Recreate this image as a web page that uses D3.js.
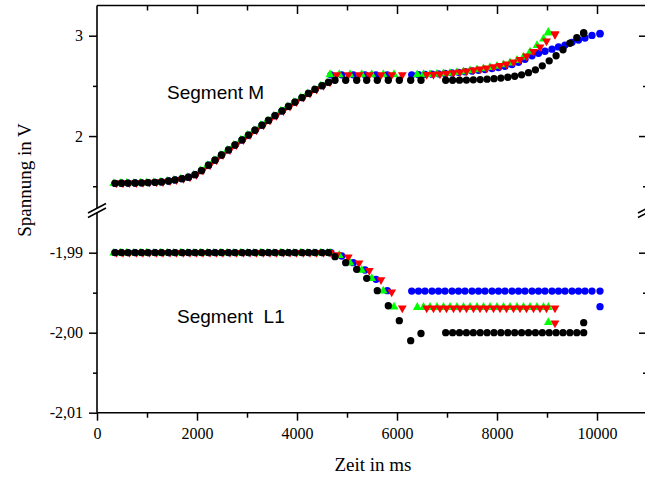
<!DOCTYPE html>
<html>
<head>
<meta charset="utf-8">
<script src="https://cdn.jsdelivr.net/npm/d3@7"></script>
<style>
  body { margin: 0; background: #fff; }
  svg { display: block; }
</style>
</head>
<body>
<div id="chart"></div>
<script>
// ------ Data ------ //

// start of every run: the four curves lie almost on top of each other here
const rampTime = [360, 490, 620, 760, 890, 1020, 1160, 1290, 1430, 1560, 1700, 1830, 1960,
  2090, 2230, 2360, 2490, 2630, 2760, 2900, 3030, 3160, 3300, 3430, 3560, 3700, 3830, 3960,
  4100, 4230, 4360, 4500, 4630];
// the triangle runs were sampled a little earlier (green) and later (red)
const greenRampTime = [335, 465, 595, 735, 865, 995, 1135, 1265, 1405, 1535, 1675, 1805, 1935,
  2065, 2205, 2335, 2465, 2605, 2735, 2875, 3005, 3135, 3275, 3405, 3535, 3675, 3805, 3935,
  4075, 4205, 4335, 4475, 4605];
const redRampTime = [390, 520, 650, 790, 920, 1050, 1190, 1320, 1460, 1590, 1730, 1860, 1990,
  2120, 2260, 2390, 2520, 2660, 2790, 2930, 3060, 3190, 3330, 3460, 3590, 3730, 3860, 3990,
  4130, 4260, 4390, 4530, 4660];
const rampM = [1.529, 1.530, 1.531, 1.532, 1.534, 1.536, 1.539, 1.543, 1.552, 1.563, 1.575, 1.590, 1.615,
  1.656, 1.710, 1.760, 1.811, 1.862, 1.911, 1.961, 2.010, 2.058, 2.108, 2.156, 2.203, 2.250, 2.295, 2.339,
  2.383, 2.425, 2.465, 2.502, 2.535];
const rampL1 = [-1.99, -1.99, -1.99, -1.99, -1.99, -1.99, -1.99, -1.99, -1.99, -1.99, -1.99, -1.99, -1.99,
  -1.99, -1.99, -1.99, -1.99, -1.99, -1.99, -1.99, -1.99, -1.99, -1.99, -1.99, -1.99, -1.99, -1.99, -1.99,
  -1.99, -1.99, -1.99, -1.99, -1.99];

// black circles
const blackTime = [4760, 4974, 5194, 5394, 5606, 5826, 6046, 6274, 6480, 6974, 7112, 7250, 7388, 7526,
  7664, 7802, 7940, 8078, 8216, 8354, 8492, 8630, 8768, 8906, 9044, 9182, 9320, 9458, 9596, 9734, 9734];
const blackM = [2.556, 2.556, 2.556, 2.556, 2.556, 2.556, 2.556, 2.556, 2.556, 2.556, 2.556, 2.557, 2.558, 2.560,
  2.563, 2.567, 2.572, 2.578, 2.586, 2.596, 2.610, 2.632, 2.660, 2.700, 2.750, 2.800, 2.860, 2.925, 2.980, 3.030, 3.022];
const blackL1 = [-1.9905, -1.99125, -1.99208, -1.9932, -1.99475, -1.99663, -1.9985, -2.0010, -2.0001, -2.00, -2.00, -2.00, -2.00, -2.00,
  -2.00, -2.00, -2.00, -2.00, -2.00, -2.00, -2.00, -2.00, -2.00, -2.00, -2.00, -2.00, -2.00, -2.00, -2.00, -2.00, -1.99875];

// blue circles
const blueTime = [4680, 4894, 5126, 5360, 5580, 5806, 6294, 6430, 6560, 6700, 6830, 6960, 7100, 7230,
  7360, 7500, 7630, 7760, 7900, 8030, 8160, 8300, 8430, 8560, 8700, 8830, 8960, 9100, 9230, 9360,
  9500, 9630, 9760, 9900, 10060, 10060];
const blueM = [2.61, 2.61, 2.61, 2.61, 2.61, 2.61, 2.61, 2.612, 2.614, 2.617, 2.620, 2.624, 2.629, 2.635,
  2.641, 2.648, 2.655, 2.663, 2.672, 2.683, 2.695, 2.712, 2.735, 2.765, 2.800, 2.825, 2.845, 2.866, 2.888, 2.907,
  2.934, 2.957, 2.977, 3.003, 3.024, 3.018];
const blueL1 = [-1.99, -1.99041, -1.99125, -1.99216, -1.99333, -1.99475, -1.9948, -1.9948, -1.9948, -1.9948, -1.9948, -1.9948, -1.9948, -1.9948,
  -1.9948, -1.9948, -1.9948, -1.9948, -1.9948, -1.9948, -1.9948, -1.9948, -1.9948, -1.9948, -1.9948, -1.9948, -1.9948, -1.9948, -1.9948, -1.9948,
  -1.9948, -1.9948, -1.9948, -1.9948, -1.9948, -1.99675];

// green up-triangles
const greenTime = [4660, 4846, 5060, 5294, 5494, 5726, 5940, 6406, 6530, 6660, 6800, 6930, 7060, 7200,
  7330, 7460, 7600, 7730, 7860, 8000, 8130, 8260, 8400, 8530, 8660, 8800, 8930, 9027, 9027];
const greenM = [2.615, 2.615, 2.615, 2.615, 2.615, 2.615, 2.615, 2.614, 2.615, 2.617, 2.620, 2.624, 2.629, 2.636,
  2.644, 2.653, 2.663, 2.674, 2.686, 2.699, 2.714, 2.732, 2.757, 2.790, 2.840, 2.905, 2.970, 3.037, 3.030];
const greenL1 = [-1.99, -1.9903, -1.99125, -1.99216, -1.9932, -1.99475, -1.99675, -1.9968, -1.9968, -1.9968, -1.9968, -1.9968, -1.9968, -1.9968,
  -1.9968, -1.9968, -1.9968, -1.9968, -1.9968, -1.9968, -1.9968, -1.9968, -1.9968, -1.9968, -1.9968, -1.9968, -1.9968, -1.9968, -1.9987];

// red down-triangles
const redTime = [4794, 5026, 5240, 5446, 5680, 5894, 6106, 6594, 6730, 6860, 6990, 7130, 7260, 7390,
  7530, 7660, 7790, 7930, 8060, 8190, 8330, 8460, 8590, 8730, 8860, 8990, 9160, 9160];
const redM = [2.608, 2.608, 2.608, 2.608, 2.608, 2.608, 2.608, 2.610, 2.612, 2.616, 2.622, 2.628, 2.636, 2.645,
  2.655, 2.665, 2.675, 2.688, 2.700, 2.715, 2.735, 2.760, 2.795, 2.840, 2.885, 2.945, 3.017, 3.010];
const redL1 = [-1.9903, -1.99058, -1.99133, -1.99225, -1.99341, -1.99495, -1.99695, -1.99695, -1.99695, -1.99695, -1.99695, -1.99695, -1.99695, -1.99695,
  -1.99695, -1.99695, -1.99695, -1.99695, -1.99695, -1.99695, -1.99695, -1.99695, -1.99695, -1.99695, -1.99695, -1.99695, -1.99695, -1.99883];

// axis ticks
const xMajorTicks = [0, 2000, 4000, 6000, 8000, 10000];
const xMinorTicks = [1000, 3000, 5000, 7000, 9000, 11000];
const mMajorTicks = [2, 3];
const mMinorTicks = [1.5, 2.5];
const l1MajorTicks = [-1.99, -2.00, -2.01];
const l1MinorTicks = [-1.995, -2.005];


// ------ Create the drawing area ------- //

const width = 645;
const height = 477;
const svg = d3.select("#chart")
  .append("svg")
    .attr("width", width)
    .attr("height", height);

const plotLeft = 97, plotRight = 647, plotTop = 5.5, plotBottom = 412.7;

const x = d3.scaleLinear().domain([0, 11000]).range([plotLeft, plotRight]);
// broken y axis: upper part for segment M, lower part for segment L1
const yM = d3.scaleLinear().domain([1.3, 3.3]).range([206.3, 5.6]);
const yL1 = d3.scaleLinear().domain([-2.01, -1.985]).range([plotBottom, 212.7]);

const de = d3.formatLocale({decimal: ",", thousands: ".", grouping: [3], currency: ["", "€"], minus: "-"});
const fmtL1 = de.format(".2f");

const serif = "'Liberation Serif', 'Times New Roman', serif";

// ------ Axes ------- //

const styleAxis = g => {
  g.select(".domain").remove();
  g.selectAll(".tick line").attr("stroke", "#000").attr("stroke-width", 1.5);
  g.selectAll(".tick text")
    .attr("fill", "#000")
    .attr("font-family", serif)
    .attr("font-size", 16);
};

// bottom
svg.append("g")
  .attr("transform", `translate(0, ${plotBottom})`)
  .call(d3.axisBottom(x).tickValues(xMajorTicks).tickSize(8).tickPadding(7).tickFormat(d3.format("d")))
  .call(styleAxis);
svg.append("g")
  .attr("transform", `translate(0, ${plotBottom})`)
  .call(d3.axisBottom(x).tickValues(xMinorTicks).tickSize(5).tickFormat(""))
  .call(styleAxis);

// top (ticks inside)
svg.append("g")
  .attr("transform", `translate(0, ${plotTop})`)
  .call(d3.axisTop(x).tickValues(xMajorTicks.slice(1)).tickSize(-8.5).tickFormat(""))
  .call(styleAxis);
svg.append("g")
  .attr("transform", `translate(0, ${plotTop})`)
  .call(d3.axisTop(x).tickValues(xMinorTicks).tickSize(-5).tickFormat(""))
  .call(styleAxis);

// left, segment M
svg.append("g")
  .attr("transform", `translate(${plotLeft}, 0)`)
  .call(d3.axisLeft(yM).tickValues(mMajorTicks).tickSize(8).tickPadding(6).tickFormat(d3.format("d")))
  .call(styleAxis);
svg.append("g")
  .attr("transform", `translate(${plotLeft}, 0)`)
  .call(d3.axisLeft(yM).tickValues(mMinorTicks).tickSize(4).tickFormat(""))
  .call(styleAxis);

// left, segment L1
svg.append("g")
  .attr("transform", `translate(${plotLeft}, 0)`)
  .call(d3.axisLeft(yL1).tickValues(l1MajorTicks).tickSize(8).tickPadding(6).tickFormat(fmtL1))
  .call(styleAxis);
svg.append("g")
  .attr("transform", `translate(${plotLeft}, 0)`)
  .call(d3.axisLeft(yL1).tickValues(l1MinorTicks).tickSize(4).tickFormat(""))
  .call(styleAxis);

// right (ticks inside, no labels)
[[yM, mMajorTicks, 8], [yM, mMinorTicks, 4], [yL1, l1MajorTicks.slice(0, 2), 8], [yL1, l1MinorTicks, 4]]
  .forEach(([scale, ticks, size]) => {
    svg.append("g")
      .attr("transform", `translate(${plotRight}, 0)`)
      .call(d3.axisRight(scale).tickValues(ticks).tickSize(-size).tickFormat(""))
      .call(styleAxis);
  });

// frame lines with the axis break
const frame = svg.append("g")
  .attr("stroke", "#000")
  .attr("stroke-width", 1.6)
  .attr("fill", "none");
frame.append("line").attr("x1", plotLeft).attr("x2", plotRight).attr("y1", plotTop).attr("y2", plotTop);
frame.append("line").attr("x1", plotLeft).attr("x2", plotRight).attr("y1", plotBottom).attr("y2", plotBottom);
[plotLeft, plotRight].forEach(xx => {
  frame.append("line").attr("x1", xx).attr("x2", xx).attr("y1", plotTop).attr("y2", 208);
  frame.append("line").attr("x1", xx).attr("x2", xx).attr("y1", 212.5).attr("y2", plotBottom);
  frame.append("line").attr("x1", xx - 9).attr("y1", 213).attr("x2", xx + 9).attr("y2", 203.5);
  frame.append("line").attr("x1", xx - 9).attr("y1", 217.5).attr("x2", xx + 9).attr("y2", 208);
});

// ------ Markers ------- //

const shapes = {
  circle: d3.symbol().type(d3.symbolCircle).size(42)(),
  up: "M0,-5L4.4,2.8L-4.4,2.8Z",
  down: "M0,5L4.4,-2.8L-4.4,-2.8Z"
};

// drawing order: blue at the back, black on top
const series = [
  {color: "#0000ff", shape: "circle", time: rampTime.concat(blueTime), m: rampM.concat(blueM), l1: rampL1.concat(blueL1)},
  {color: "#00ff00", shape: "up", time: greenRampTime.concat(greenTime), m: rampM.concat(greenM), l1: rampL1.concat(greenL1)},
  {color: "#ff0000", shape: "down", time: redRampTime.concat(redTime), m: rampM.concat(redM), l1: rampL1.concat(redL1)},
  {color: "#000000", shape: "circle", time: rampTime.concat(blackTime), m: rampM.concat(blackM), l1: rampL1.concat(blackL1)}
];

series.forEach(s => {
  const g = svg.append("g").attr("fill", s.color);
  const pts = s.time.map((t, i) => ({t: t, m: s.m[i], l1: s.l1[i]}));
  g.selectAll(".m")
    .data(pts)
    .join("path")
      .attr("class", "m")
      .attr("d", shapes[s.shape])
      .attr("transform", d => `translate(${x(d.t)}, ${yM(d.m)})`);
  g.selectAll(".l1")
    .data(pts)
    .join("path")
      .attr("class", "l1")
      .attr("d", shapes[s.shape])
      .attr("transform", d => `translate(${x(d.t)}, ${yL1(d.l1)})`);
});

// ------ Labels ------- //

svg.append("text")
  .text("Segment M")
  .attr("x", 167)
  .attr("y", 98.5)
  .attr("font-family", "'Liberation Sans', Arial, sans-serif")
  .attr("font-size", 19);

svg.append("text")
  .text("Segment  L1")
  .attr("x", 177)
  .attr("y", 322.7)
  .style("white-space", "pre")
  .attr("font-family", "'Liberation Sans', Arial, sans-serif")
  .attr("font-size", 19);

svg.append("text")
  .text("Zeit in ms")
  .attr("x", 373)
  .attr("y", 471)
  .attr("text-anchor", "middle")
  .attr("font-family", serif)
  .attr("font-size", 19);

svg.append("text")
  .text("Spannung in V")
  .attr("transform", "translate(31, 180) rotate(-90)")
  .attr("text-anchor", "middle")
  .attr("font-family", serif)
  .attr("font-size", 19);
</script>
</body>
</html>
